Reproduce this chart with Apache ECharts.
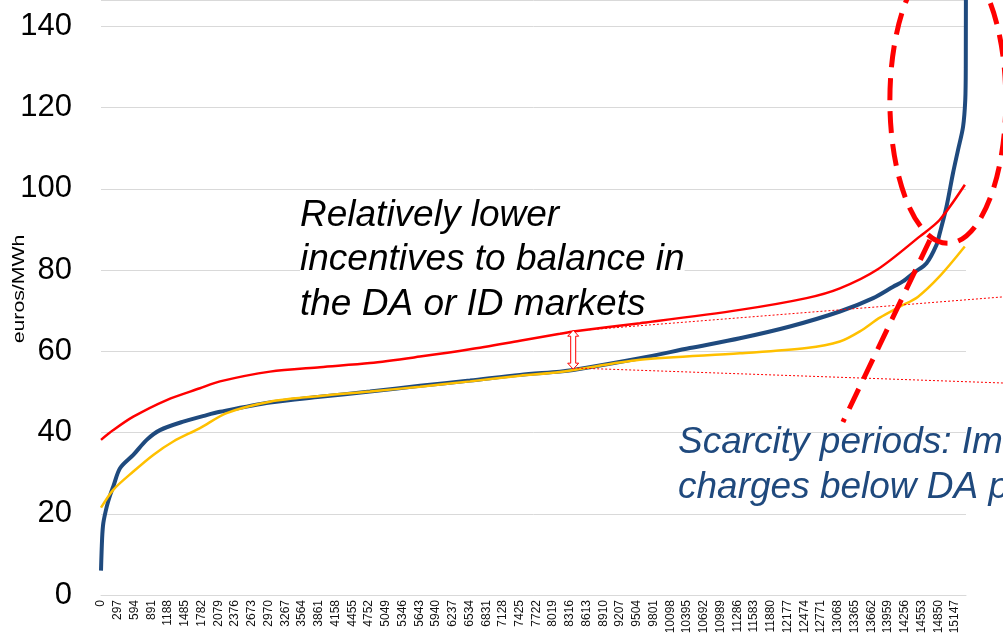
<!DOCTYPE html>
<html>
<head>
<meta charset="utf-8">
<script src="https://cdn.jsdelivr.net/npm/echarts@6/dist/echarts.min.js"></script>
<style>
  html, body { margin: 0; padding: 0; background: #fff; }
  #chart { width: 1003px; height: 643px; }
</style>
</head>
<body>
<div id="chart"></div>
<script>
// Hourly prices sorted in ascending order (hour rank -> euros/MWh)
const navyHours = [0, 20, 41, 101, 160, 218, 337, 573, 810, 1046, 1459, 1874, 2110, 2997, 3884, 4770, 5656, 6543, 7429, 8138,
                   8374, 9557, 10443, 11330, 12217, 13103, 13694, 14048, 14220, 14432, 14640, 14817, 14875, 14994, 15110, 15199, 15288, 15327, 15336, 15340];
const navyPrice = [6.0, 14, 17.7, 21.7, 24.5, 26.7, 31.2, 34.5, 38.2, 40.6, 42.7, 44.3, 45.1, 47.4, 48.8, 50.1, 51.5, 52.8, 54.2, 55.0,
                   55.4, 58.3, 60.8, 63.2, 66.1, 69.8, 73.1, 75.9, 77.2, 79.5, 81.7, 86.2, 89.1, 95.6, 103.9, 109.6, 115.3, 121.9, 130, 175];

const redHours = [0, 218, 573, 1165, 1755, 2110, 2997, 3884, 4770, 5656, 6543, 7429, 8138, 8374, 9557, 11330, 12512, 13103, 13776, 14522, 14875, 15320];
const redPrice = [38.2, 40.6, 43.9, 48.0, 50.9, 52.6, 55.0, 56.1, 57.1, 58.7, 60.5, 62.6, 64.3, 64.9, 66.9, 70.2, 73.1, 75.5, 80.2, 88.3, 92.4, 101];

const goldHours = [0, 218, 573, 927, 1282, 1755, 2229, 2997, 3884, 4770, 5656, 6543, 7429, 8138, 9557, 11330, 12512, 13103, 13458, 13812, 14166, 14485, 14875, 15318];
const goldPrice = [21.5, 25.9, 30.4, 34.5, 37.8, 41.1, 44.8, 47.6, 49.0, 50.1, 51.3, 52.6, 54.0, 54.9, 57.9, 59.5, 60.8, 62.4, 64.9, 68.3, 71.0, 73.4, 78.5, 85.8];

// Axis ticks
const xTickLabels = [0, 297, 594, 891, 1188, 1485, 1782, 2079, 2376, 2673, 2970, 3267, 3564, 3861, 4158, 4455, 4752, 5049, 5346, 5643,
                     5940, 6237, 6534, 6831, 7128, 7425, 7722, 8019, 8316, 8613, 8910, 9207, 9504, 9801, 10098, 10395, 10692, 10989, 11286, 11583,
                     11880, 12177, 12474, 12771, 13068, 13365, 13662, 13959, 14256, 14553, 14850, 15147];
const yTickLabels = [0, 20, 40, 60, 80, 100, 120, 140];

const FONT = "'Liberation Sans', Arial, sans-serif";
const zip = (xs, ys) => xs.map((x, i) => [x, ys[i]]);

const chart = echarts.init(document.getElementById('chart'), null, { renderer: 'canvas' });

chart.setOption({
  animation: false,
  backgroundColor: '#ffffff',
  grid: { left: 101, right: 37, top: 0, bottom: 48, containLabel: false },
  xAxis: {
    type: 'value',
    min: 0,
    max: 15340,
    interval: 297,
    axisLine: { show: true, lineStyle: { color: '#d9d9d9', width: 1 } },
    axisTick: { show: false },
    splitLine: { show: false },
    axisLabel: {
      rotate: 90,
      margin: 5,
      fontSize: 12,
      fontFamily: FONT,
      color: '#111',
      showMaxLabel: false,
      formatter: v => (xTickLabels.includes(v) ? String(v) : '')
    }
  },
  yAxis: {
    type: 'value',
    min: 0,
    max: 146.5,
    interval: 20,
    axisLine: { show: false },
    axisTick: { show: false },
    splitLine: { show: true, lineStyle: { color: '#d9d9d9', width: 1 } },
    axisLabel: {
      margin: 29,
      fontSize: 31,
      fontFamily: FONT,
      color: '#000',
      showMaxLabel: false,
      formatter: v => (yTickLabels.includes(v) ? String(v) : '')
    }
  },
  series: [
    {
      type: 'line', name: 'navy', data: zip(navyHours, navyPrice),
      showSymbol: false, smooth: 0.3, z: 3,
      lineStyle: { color: '#1f4a7e', width: 4 }
    },
    {
      type: 'line', name: 'gold', data: zip(goldHours, goldPrice),
      showSymbol: false, smooth: 0.3, z: 4,
      lineStyle: { color: '#ffc000', width: 2.5 }
    },
    {
      type: 'line', name: 'red', data: zip(redHours, redPrice),
      showSymbol: false, smooth: 0.3, z: 5,
      lineStyle: { color: '#ff0000', width: 2.5 }
    }
  ]
});

// Annotation overlay, positioned through the axes
const P = (x, y) => chart.convertToPixel({ gridIndex: 0 }, [x, y]);

const arrowHour = 8374;
const arrowTop = P(arrowHour, 65.2);
const arrowBot = P(arrowHour, 55.6);
const ax = arrowTop[0], at = arrowTop[1], ab = arrowBot[1];
const arrowPts = [
  [ax, at], [ax - 5.5, at + 6], [ax - 2.5, at + 6], [ax - 2.5, ab - 6], [ax - 5.5, ab - 6],
  [ax, ab], [ax + 5.5, ab - 6], [ax + 2.5, ab - 6], [ax + 2.5, at + 6], [ax + 5.5, at + 6]
];

const upA = P(arrowHour, 65.0), upB = P(15995, 73.4);
const loA = P(arrowHour, 55.9), loB = P(15995, 52.2);

const ellC = P(15018, 121.8);
const ellR = P(15018 + 1028, 121.8 + 35.2);
const ptrA = P(14699, 87.4), ptrB = P(13157, 42.6);

chart.setOption({
  graphic: [
    {
      type: 'text', z: 1, x: 300, y: 193,
      style: {
        text: 'Relatively lower\nincentives to balance in\nthe DA or ID markets',
        font: 'italic 37px ' + FONT, fill: '#000',
        lineHeight: 44.5, textAlign: 'left', textVerticalAlign: 'top',
        backgroundColor: '#fff'
      }
    },
    {
      type: 'text', z: 1, x: 678, y: 420,
      style: {
        text: 'Scarcity periods: Imbalance\ncharges below DA prices',
        font: 'italic 37px ' + FONT, fill: '#1f497d',
        lineHeight: 45, textAlign: 'left', textVerticalAlign: 'top'
      }
    },
    {
      type: 'text', x: 19, y: 289, rotation: Math.PI / 2, scaleX: 1.25,
      style: {
        text: 'euros/MWh', font: '17px ' + FONT, fill: '#000',
        textAlign: 'center', textVerticalAlign: 'middle'
      }
    },
    {
      type: 'line', z: 10,
      shape: { x1: upA[0], y1: upA[1], x2: upB[0], y2: upB[1] },
      style: { stroke: '#ff0000', lineWidth: 1, lineDash: [2, 2] }
    },
    {
      type: 'line', z: 10,
      shape: { x1: loA[0], y1: loA[1], x2: loB[0], y2: loB[1] },
      style: { stroke: '#ff0000', lineWidth: 1, lineDash: [2, 2] }
    },
    {
      type: 'polygon', z: 11,
      shape: { points: arrowPts },
      style: { fill: '#ffffff', stroke: '#ff0000', lineWidth: 1 }
    },
    {
      type: 'ellipse', z: 12,
      shape: { cx: ellC[0], cy: ellC[1], rx: ellR[0] - ellC[0], ry: ellC[1] - ellR[1] },
      style: { fill: 'none', stroke: '#ff0000', lineWidth: 5, lineDash: [22, 11] }
    },
    {
      type: 'line', z: 12,
      shape: { x1: ptrA[0], y1: ptrA[1], x2: ptrB[0], y2: ptrB[1] },
      style: { stroke: '#ff0000', lineWidth: 5, lineDash: [22, 11] }
    }
  ]
});
</script>
</body>
</html>
